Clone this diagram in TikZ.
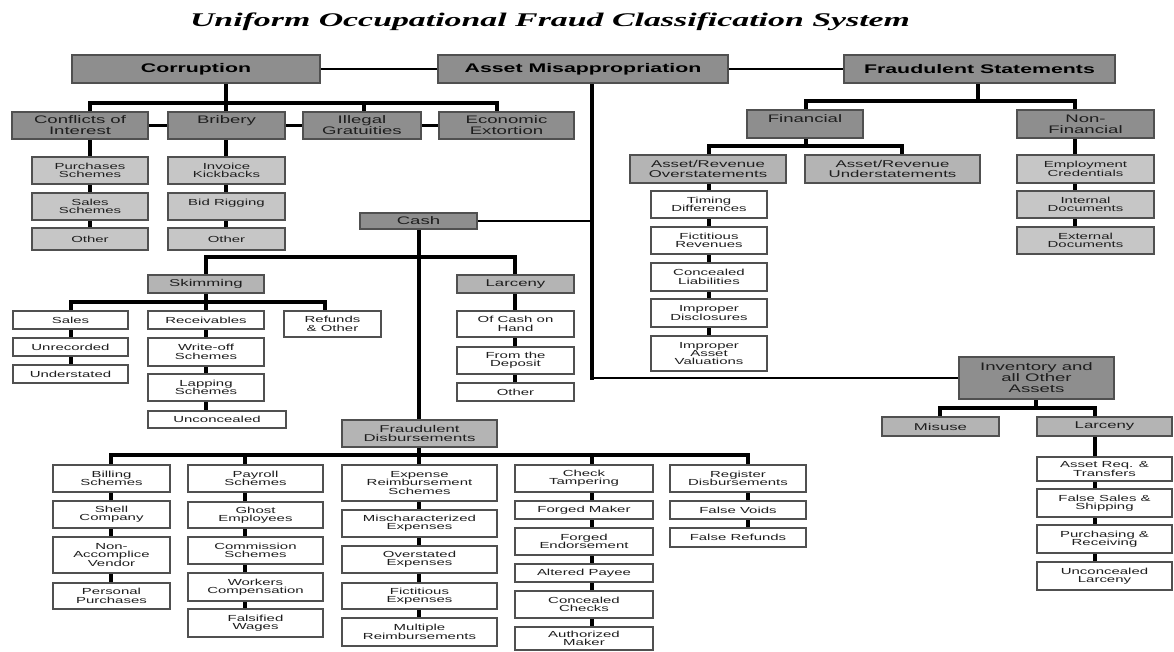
\documentclass[tikz,border=0pt]{standalone}
\usepackage{fontspec}
\setmainfont{Liberation Sans}
\newfontfamily\wf[FakeStretch=1.7]{Liberation Sans}
\newfontfamily\ttlf[FakeStretch=1.75]{Liberation Serif}
\definecolor{dkg}{HTML}{8E8E8E}
\definecolor{mdg}{HTML}{B4B4B4}
\definecolor{lgg}{HTML}{C6C6C6}
\definecolor{bordc}{HTML}{505050}
\definecolor{txtc}{HTML}{1E1E1E}
\pgfdeclarelayer{bg}
\pgfsetlayers{bg,main}
\tikzset{
  bx/.style={draw=bordc, line width=0.9pt, inner sep=0pt, outer sep=0pt, align=center, text=txtc},
  topb/.style={bx, fill=dkg, text=black, font=\wf\bfseries\fontsize{9.4}{10}\selectfont},
  lvone/.style={bx, fill=dkg, font=\wf\fontsize{8.2}{8.3}\selectfont},
  midb/.style={bx, fill=mdg, font=\wf\fontsize{7.4}{6.9}\selectfont},
  lgtb/.style={bx, fill=lgg, font=\wf\fontsize{6.6}{6.3}\selectfont},
  whtb/.style={bx, fill=white, font=\wf\fontsize{6.6}{6.3}\selectfont},
  thk/.style={line width=3.6pt, black, line cap=rect},
  busl/.style={line width=2.4pt, black, line cap=rect},
  mdl/.style={line width=2pt, black},
  thn/.style={line width=1.5pt, black},
}
\newcommand\mkbox[7]{\node[#2, minimum width={(#5-#3)*0.75pt}, minimum height={(#6-#4)*0.75pt}] (#1) at ({(#3+#5)/2},{(#4+#6)/2}) {#7};}
\begin{document}
\begin{tikzpicture}[x=0.75pt,y=-0.75pt]
\useasboundingbox (0,0) rectangle (1174,651);
\begin{pgfonlayer}{bg}
\fill[white] (0,0) rectangle (1174,651);
\end{pgfonlayer}
% x and y helper coordinates
\foreach \v in {71,90,111,206,226,245,325,364,419,497,515,592,709,748,806,902,940,978,1036,1075,1095}
  {\coordinate (X\v) at (\v,0);}
\foreach \v in {101,103,146,257,302,408,455}
  {\coordinate (Y\v) at (0,\v);}

\node[font=\ttlf\bfseries\itshape\fontsize{14.5}{16}\selectfont] (title) at (550,22) {Uniform Occupational Fraud Classification System};

% top row
\mkbox{corr}{topb}{72}{55}{320}{83}{Corruption}
\mkbox{am}{topb}{438}{55}{728}{83}{Asset Misappropriation}
\mkbox{fs}{topb}{844}{55}{1115}{83}{Fraudulent Statements}

% corruption
\mkbox{coi}{lvone}{12}{112}{148}{139}{Conflicts of\\Interest}
\mkbox{brib}{lvone}{168}{112}{285}{139}{Bribery\\\mbox{}}
\mkbox{ig}{lvone}{303}{112}{421}{139}{Illegal\\Gratuities}
\mkbox{ee}{lvone}{439}{112}{574}{139}{Economic\\Extortion}
\mkbox{ps}{lgtb}{32}{157}{148}{184}{Purchases\\Schemes}
\mkbox{ss}{lgtb}{32}{193}{148}{220}{Sales\\Schemes}
\mkbox{oa}{lgtb}{32}{228}{148}{250}{Other}
\mkbox{ik}{lgtb}{168}{157}{285}{184}{Invoice\\Kickbacks}
\mkbox{bdr}{lgtb}{168}{193}{285}{220}{Bid Rigging\\\mbox{}}
\mkbox{ob}{lgtb}{168}{228}{285}{250}{Other}

% cash
\mkbox{cash}{lvone}{360}{213}{477}{229}{Cash}
\mkbox{skim}{midb}{148}{275}{264}{293}{Skimming}
\mkbox{lc}{midb}{457}{275}{574}{293}{Larceny}
\mkbox{sales}{whtb}{13}{311}{128}{329}{Sales}
\mkbox{rec}{whtb}{148}{311}{264}{329}{Receivables}
\mkbox{ref}{whtb}{284}{311}{381}{337}{Refunds\\\& Other}
\mkbox{unrec}{whtb}{13}{338}{128}{356}{Unrecorded}
\mkbox{under}{whtb}{13}{365}{128}{383}{Understated}
\mkbox{wo}{whtb}{148}{338}{264}{366}{Write-off\\Schemes}
\mkbox{lap}{whtb}{148}{374}{264}{401}{Lapping\\Schemes}
\mkbox{unc}{whtb}{148}{411}{286}{428}{Unconcealed}
\mkbox{och}{whtb}{457}{311}{574}{337}{Of Cash on\\Hand}
\mkbox{ftd}{whtb}{457}{347}{574}{374}{From the\\Deposit}
\mkbox{oc}{whtb}{457}{383}{574}{401}{Other}

% fraudulent disbursements
\mkbox{fd}{midb}{342}{420}{497}{447}{Fraudulent\\Disbursements}
\mkbox{bill}{whtb}{53}{465}{170}{492}{Billing\\Schemes}
\mkbox{shell}{whtb}{53}{501}{170}{528}{Shell\\Company}
\mkbox{nav}{whtb}{53}{537}{170}{573}{Non-\\Accomplice\\Vendor}
\mkbox{pp}{whtb}{53}{583}{170}{609}{Personal\\Purchases}
\mkbox{pay}{whtb}{188}{465}{323}{492}{Payroll\\Schemes}
\mkbox{ghost}{whtb}{188}{502}{323}{528}{Ghost\\Employees}
\mkbox{comm}{whtb}{188}{537}{323}{564}{Commission\\Schemes}
\mkbox{work}{whtb}{188}{573}{323}{601}{Workers\\Compensation}
\mkbox{fw}{whtb}{188}{609}{323}{637}{Falsified\\Wages}
\mkbox{exp}{whtb}{342}{465}{497}{501}{Expense\\Reimbursement\\Schemes}
\mkbox{mis}{whtb}{342}{510}{497}{537}{Mischaracterized\\Expenses}
\mkbox{ovs}{whtb}{342}{546}{497}{573}{Overstated\\Expenses}
\mkbox{fic}{whtb}{342}{583}{497}{609}{Fictitious\\Expenses}
\mkbox{mult}{whtb}{342}{618}{497}{646}{Multiple\\Reimbursements}
\mkbox{chk}{whtb}{515}{465}{653}{492}{Check\\Tampering}
\mkbox{fm}{whtb}{515}{501}{653}{519}{Forged Maker}
\mkbox{fe}{whtb}{515}{528}{653}{555}{Forged\\Endorsement}
\mkbox{ap}{whtb}{515}{564}{653}{582}{Altered Payee}
\mkbox{cc}{whtb}{515}{591}{653}{618}{Concealed\\Checks}
\mkbox{amk}{whtb}{515}{627}{653}{650}{Authorized\\Maker}
\mkbox{reg}{whtb}{670}{465}{806}{492}{Register\\Disbursements}
\mkbox{fv}{whtb}{670}{501}{806}{519}{False Voids}
\mkbox{fr}{whtb}{670}{528}{806}{547}{False Refunds}

% fraudulent statements
\mkbox{fin}{lvone}{747}{110}{863}{138}{Financial\\\mbox{}}
\mkbox{nf}{lvone}{1017}{110}{1154}{138}{Non-\\Financial}
\mkbox{aro}{midb}{630}{155}{786}{183}{Asset/Revenue\\Overstatements}
\mkbox{aru}{midb}{805}{155}{980}{183}{Asset/Revenue\\Understatements}
\mkbox{td}{whtb}{651}{191}{767}{218}{Timing\\Differences}
\mkbox{frv}{whtb}{651}{227}{767}{254}{Fictitious\\Revenues}
\mkbox{cl}{whtb}{651}{263}{767}{291}{Concealed\\Liabilities}
\mkbox{idc}{whtb}{651}{299}{767}{327}{Improper\\Disclosures}
\mkbox{iav}{whtb}{651}{336}{767}{371}{Improper\\Asset\\Valuations}
\mkbox{ec}{lgtb}{1017}{155}{1154}{183}{Employment\\Credentials}
\mkbox{indoc}{lgtb}{1017}{191}{1154}{218}{Internal\\Documents}
\mkbox{exd}{lgtb}{1017}{227}{1154}{254}{External\\Documents}

% inventory
\mkbox{inv}{lvone}{959}{357}{1114}{399}{Inventory and\\all Other\\Assets}
\mkbox{mu}{midb}{882}{417}{999}{436}{Misuse}
\mkbox{lci}{midb}{1037}{417}{1172}{436}{Larceny}
\mkbox{arq}{whtb}{1037}{457}{1172}{481}{Asset Req. \&\\Transfers}
\mkbox{fss}{whtb}{1037}{489}{1172}{517}{False Sales \&\\Shipping}
\mkbox{pr}{whtb}{1037}{525}{1172}{553}{Purchasing \&\\Receiving}
\mkbox{ul}{whtb}{1037}{562}{1172}{590}{Unconcealed\\Larceny}

\begin{pgfonlayer}{bg}
% top row links
\draw[thn] (corr.east) -- (am.west);
\draw[thn] (am.east) -- (fs.west);
% corruption
\draw[mdl] (coi.east) -- (brib.west);
\draw[mdl] (brib.east) -- (ig.west);
\draw[mdl] (ig.east) -- (ee.west);
\draw[busl] (Y103 -| X90) -- (Y103 -| X497);
\draw[thk] (corr.south -| X226) -- (ob.north -| X226);
\draw[thk] (Y103 -| X90) -- (oa.north -| X90);
\draw[thk] (Y103 -| X364) -- (ig.north -| X364);
\draw[thk] (Y103 -| X497) -- (ee.north -| X497);
% asset misappropriation
\draw[thk] (am.south -| X592) -- (inv.west -| X592);
\draw[mdl] (inv.west -| X592) -- (inv.west);
\draw[mdl] (cash.east) -- (cash.east -| X592);
\draw[thk] (cash.south -| X419) -- (mult.north -| X419);
\draw[busl] (Y257 -| X206) -- (Y257 -| X515);
\draw[thk] (Y257 -| X206) -- (unc.north -| X206);
\draw[thk] (Y257 -| X515) -- (oc.north -| X515);
\draw[busl] (Y302 -| X71) -- (Y302 -| X325);
\draw[thk] (Y302 -| X71) -- (under.north -| X71);
\draw[thk] (Y302 -| X325) -- (ref.north -| X325);
\draw[busl] (Y455 -| X111) -- (Y455 -| X748);
\draw[thk] (Y455 -| X111) -- (pp.north -| X111);
\draw[thk] (Y455 -| X245) -- (fw.north -| X245);
\draw[thk] (Y455 -| X592) -- (amk.north -| X592);
\draw[thk] (Y455 -| X748) -- (fr.north -| X748);
% fraudulent statements
\draw[thk] (fs.south -| X978) -- (Y101 -| X978);
\draw[busl] (Y101 -| X806) -- (Y101 -| X1075);
\draw[thk] (Y101 -| X806) -- (Y146 -| X806);
\draw[thk] (Y101 -| X1075) -- (exd.north -| X1075);
\draw[busl] (Y146 -| X709) -- (Y146 -| X902);
\draw[thk] (Y146 -| X709) -- (iav.north -| X709);
\draw[thk] (Y146 -| X902) -- (aru.north -| X902);
% inventory
\draw[thk] (inv.south -| X1036) -- (Y408 -| X1036);
\draw[busl] (Y408 -| X940) -- (Y408 -| X1095);
\draw[thk] (Y408 -| X940) -- (mu.north -| X940);
\draw[thk] (Y408 -| X1095) -- (ul.north -| X1095);
\end{pgfonlayer}
\end{tikzpicture}
\end{document}
